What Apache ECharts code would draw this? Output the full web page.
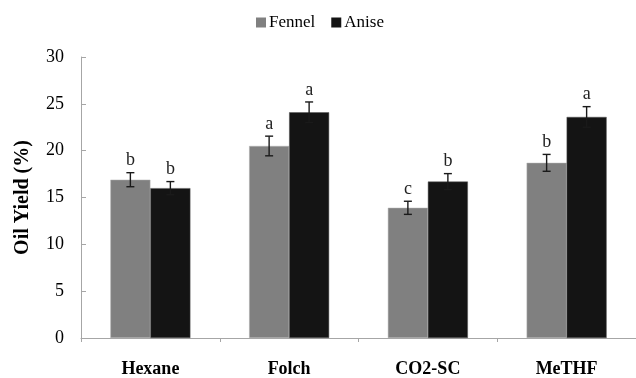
<!DOCTYPE html>
<html>
<head>
<meta charset="utf-8">
<script src="https://cdn.jsdelivr.net/npm/echarts@6/dist/echarts.min.js"></script>
<style>html,body{margin:0;padding:0;background:#fff;}#c{width:636px;height:378px;}</style>
</head>
<body>
<div id="c"></div>
<script>
var categories = ['Hexane', 'Folch', 'CO2-SC', 'MeTHF'];
var fennel = [16.9, 20.5, 13.9, 18.7];
var anise = [16.0, 24.1, 16.7, 23.6];
var fennelErr = [0.75, 1.05, 0.7, 0.9];
var aniseErr = [0.7, 1.1, 0.85, 1.1];
var fennelLetters = ['b', 'a', 'c', 'b'];
var aniseLetters = ['b', 'a', 'b', 'a'];
var yTicks = [0, 5, 10, 15, 20, 25, 30];

var FONT = '"Liberation Serif", "Times New Roman", serif';
var BAR_W = 40;

function errSeries(name, vals, errs, letters, offset) {
  var data = vals.map(function (v, i) { return [i, v, errs[i]]; });
  return {
    name: name + ' err',
    type: 'custom',
    z: 10,
    silent: true,
    data: data,
    renderItem: function (params, api) {
      var i = api.value(0), v = api.value(1), e = api.value(2);
      var letter = letters[params.dataIndex];
      var top = api.coord([i, v + e]);
      var bot = api.coord([i, v - e]);
      var x = top[0] + offset;
      var cw = 4;
      return {
        type: 'group',
        children: [
          { type: 'line', shape: { x1: x, y1: top[1], x2: x, y2: bot[1] }, style: { stroke: '#1a1a1a', lineWidth: 1.4 } },
          { type: 'line', shape: { x1: x - cw, y1: top[1], x2: x + cw, y2: top[1] }, style: { stroke: '#1a1a1a', lineWidth: 1.4 } },
          { type: 'line', shape: { x1: x - cw, y1: bot[1], x2: x + cw, y2: bot[1] }, style: { stroke: '#1a1a1a', lineWidth: 1.4 } },
          { type: 'text', style: { text: letter, x: x, y: top[1] - 12, align: 'center', verticalAlign: 'middle', font: '18px ' + FONT, fill: '#222' } }
        ]
      };
    }
  };
}

var chart = echarts.init(document.getElementById('c'));
chart.setOption({
  animation: false,
  backgroundColor: '#fff',
  legend: {
    top: 9,
    left: 251,
    itemWidth: 10,
    itemHeight: 10,
    itemGap: 16,
    icon: 'rect',
    itemStyle: { borderWidth: 0 },
    textStyle: { fontFamily: FONT, fontSize: 17, color: '#000', padding: [0, 0, 0, -2] },
    data: ['Fennel', 'Anise']
  },
  grid: { left: 81, top: 57, width: 559, height: 284 },
  xAxis: {
    type: 'category',
    data: categories,
    axisLine: { lineStyle: { color: '#a6a6a6', width: 1 } },
    axisTick: { show: true, length: 4, lineStyle: { color: '#a6a6a6' } },
    axisLabel: { fontFamily: FONT, fontSize: 18, fontWeight: 'bold', color: '#000', margin: 22 }
  },
  yAxis: {
    type: 'value',
    min: 0,
    max: 30,
    interval: 5,
    name: 'Oil Yield (%)',
    nameLocation: 'middle',
    nameGap: 48,
    nameTextStyle: { fontFamily: FONT, fontSize: 20, fontWeight: 'bold', color: '#000' },
    axisLine: { show: true, lineStyle: { color: '#a6a6a6', width: 1 } },
    axisTick: { show: true, inside: true, length: 5, lineStyle: { color: '#a6a6a6' } },
    splitLine: { show: false },
    axisLabel: { fontFamily: FONT, fontSize: 18, color: '#000', margin: 17,
      formatter: function (v) { return yTicks.indexOf(v) >= 0 ? String(v) : ''; } }
  },
  series: [
    { name: 'Fennel', type: 'bar', data: fennel, barWidth: BAR_W, barGap: '0%',
      itemStyle: { color: '#808080', borderColor: '#b0b0b0', borderWidth: 0.5 } },
    { name: 'Anise', type: 'bar', data: anise, barWidth: BAR_W, barGap: '0%',
      itemStyle: { color: '#141414', borderColor: '#555', borderWidth: 0.5 } },
    errSeries('Fennel', fennel, fennelErr, fennelLetters, -BAR_W / 2),
    errSeries('Anise', anise, aniseErr, aniseLetters, BAR_W / 2)
  ]
});
</script>
</body>
</html>
